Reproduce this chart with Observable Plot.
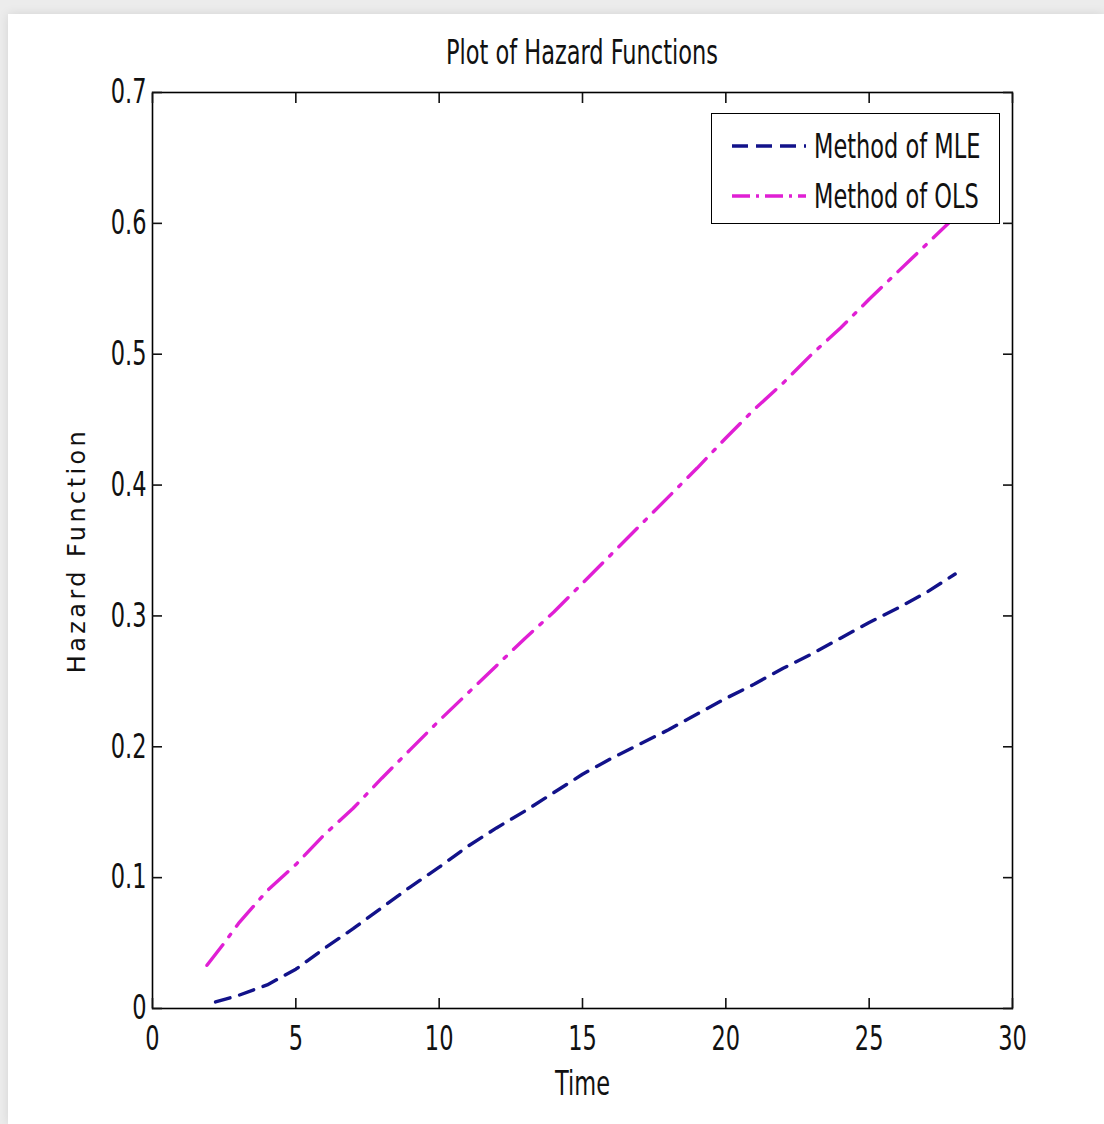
<!DOCTYPE html>
<html><head><meta charset="utf-8">
<script src="https://cdn.jsdelivr.net/npm/d3@7"></script>
<script src="https://cdn.jsdelivr.net/npm/@observablehq/plot@0.6"></script>
<style>
html,body{margin:0;padding:0;background:#ececec;}
#page{position:relative;width:1104px;height:1124px;overflow:hidden;}
#card{position:absolute;left:8px;top:14px;right:0;bottom:0;background:#fff;box-shadow:0 0 10px rgba(0,0,0,0.10);}
#chart{position:absolute;left:0;top:0;}
.narrow{font-family:"Liberation Sans Narrow","Arial Narrow","DejaVu Sans Condensed",sans-serif;}
#title{position:absolute;left:152px;width:860px;top:37px;text-align:center;font-size:25px;color:#111;transform:scaleY(1.35);line-height:32px;}
#legend{position:absolute;left:711px;top:113px;width:287px;height:109px;border:1.5px solid #000;background:#fff;}
.row{position:absolute;left:20px;height:40px;display:flex;align-items:center;font-size:25px;color:#111;}
.row svg{margin-right:8px;}
.row span{display:inline-block;transform:scaleY(1.35);}
</style>
</head><body>
<div id="page">
  <div id="card"></div>
  <div id="chart"></div>
  <div id="title" class="narrow">Plot of Hazard Functions</div>
  <div id="legend" class="narrow"></div>
</div>
<script>
// ---- data ----
const seriesNames = ["Method of MLE", "Method of OLS"];
const seriesColors = ["#12128a", "#e01fd4"];
const seriesDash = ["15,10", "26,10,3,10"];

const mleTime = [2.2, 3, 4, 5, 6, 7, 8, 9, 10, 11, 12, 13, 14, 15, 16, 17, 18, 19, 20, 21, 22, 23, 24, 25, 26, 27, 28];
const mleHazard = [0.005, 0.010, 0.018, 0.030, 0.046, 0.061, 0.077, 0.093, 0.108, 0.124, 0.138, 0.151, 0.165, 0.179, 0.191, 0.202, 0.213, 0.225, 0.237, 0.248, 0.260, 0.271, 0.283, 0.295, 0.306, 0.318, 0.332];

const olsTime = [1.9, 2.5, 3, 4, 5, 6, 7, 8, 9, 10, 11, 12, 13, 14, 15, 16, 17, 18, 19, 20, 21, 22, 23, 24, 25, 26, 27, 28];
const olsHazard = [0.033, 0.050, 0.065, 0.090, 0.110, 0.133, 0.153, 0.176, 0.198, 0.220, 0.241, 0.262, 0.283, 0.303, 0.325, 0.347, 0.369, 0.391, 0.413, 0.436, 0.458, 0.478, 0.500, 0.520, 0.542, 0.563, 0.584, 0.605];

const xTicks = [0, 5, 10, 15, 20, 25, 30];
const yTicks = [0, 0.1, 0.2, 0.3, 0.4, 0.5, 0.6, 0.7];
const xTickLabels = ["0", "5", "10", "15", "20", "25", "30"];
const yTickLabels = ["0", "0.1", "0.2", "0.3", "0.4", "0.5", "0.6", "0.7"];

// ---- build tables ----
const mle = mleTime.map((t, i) => ({t, h: mleHazard[i]}));
const ols = olsTime.map((t, i) => ({t, h: olsHazard[i]}));

const narrow = '"Liberation Sans Narrow","Arial Narrow","DejaVu Sans Condensed",sans-serif';

const chart = Plot.plot({
  width: 1104, height: 1124,
  marginLeft: 152, marginRight: 92, marginTop: 92, marginBottom: 116,
  style: {background: "transparent", fontFamily: narrow, fontSize: "25px", color: "#111"},
  x: {domain: [0, 30]},
  y: {domain: [0, 0.7]},
  marks: [
    Plot.line(ols, {x: "t", y: "h", stroke: seriesColors[1], strokeWidth: 3.4, strokeDasharray: seriesDash[1]}),
    Plot.line(mle, {x: "t", y: "h", stroke: seriesColors[0], strokeWidth: 3.4, strokeDasharray: seriesDash[0]}),
    Plot.frame({stroke: "#000", strokeWidth: 1.6}),
    Plot.axisX({anchor: "bottom", ticks: xTicks, tickSize: -10, tickPadding: 28, strokeWidth: 1.6,
      tickFormat: d => xTickLabels[xTicks.indexOf(d)], label: "Time", labelAnchor: "center", labelArrow: "none", labelOffset: 86}),
    Plot.axisX({anchor: "top", ticks: xTicks, tickSize: -10, strokeWidth: 1.6, tickFormat: () => "", label: null}),
    Plot.axisY({anchor: "left", ticks: yTicks, tickSize: -10, tickPadding: 16, strokeWidth: 1.6,
      tickFormat: d => yTickLabels[yTicks.findIndex(v => Math.abs(v - d) < 1e-9)], label: "Hazard Function", labelAnchor: "center", labelArrow: "none", labelOffset: 85}),
    Plot.axisY({anchor: "right", ticks: yTicks, tickSize: -10, strokeWidth: 1.6, tickFormat: () => "", label: null})
  ]
});
document.getElementById("chart").appendChild(chart);

// stretch tick/axis text vertically like the reference (append a scale to each text's own transform)
d3.select(chart).selectAll('g[aria-label$="tick label"] text, g[aria-label="x-axis label"] text').each(function () {
  const el = d3.select(this);
  let tr = el.attr("transform");
  if (!tr) {
    const x = +el.attr("x") || 0, y = +el.attr("y") || 0;
    tr = `translate(${x},${y})`;
    el.attr("x", null).attr("y", null);
  }
  el.attr("transform", tr + " scale(1,1.35)");
});
d3.select(chart).selectAll('g[aria-label="y-axis label"] text')
  .style("font-family", '"DejaVu Sans",sans-serif').style("font-size", "24px").style("letter-spacing", "3.4px");

// legend
const legend = d3.select("#legend");
seriesNames.forEach((name, i) => {
  const row = legend.append("div").attr("class", "row").style("top", (12 + i * 50) + "px");
  const s = row.append("svg").attr("width", 74).attr("height", 10);
  s.append("line").attr("x1", 0).attr("x2", 74).attr("y1", 5).attr("y2", 5)
    .attr("stroke", seriesColors[i]).attr("stroke-width", 3.4).attr("stroke-dasharray", seriesDash[i] === "15,10" ? "16,8" : "18,6,3,6");
  row.append("span").text(name);
});
</script>
</body></html>
